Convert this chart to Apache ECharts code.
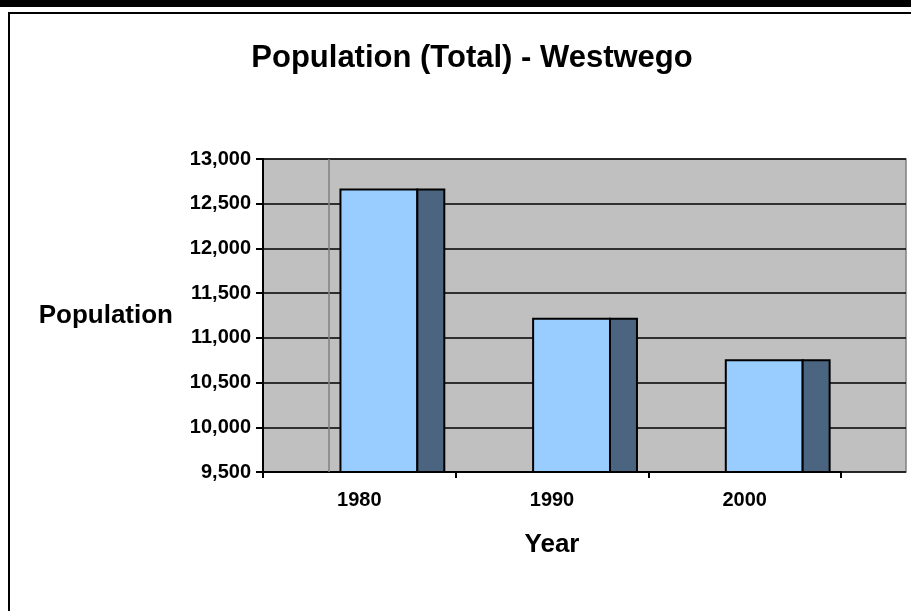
<!DOCTYPE html>
<html>
<head>
<meta charset="utf-8">
<script src="https://cdn.jsdelivr.net/npm/echarts@6/dist/echarts.min.js"></script>
<style>
html,body{margin:0;padding:0;background:#fff;}
#chart{width:911px;height:611px;}
</style>
</head>
<body>
<div id="chart"></div>
<script>
const titleText = 'Population (Total) - Westwego';
const yAxisTitle = 'Population';
const xAxisTitle = 'Year';
const categories = ['1980', '1990', '2000'];
const populationValues = [12660, 11215, 10750];
const yMin = 9500, yMax = 13000, yStep = 500;

const FONT = '"Liberation Sans", Arial, Helvetica, sans-serif';
const chart = echarts.init(document.getElementById('chart'));

function fmt(v){ return String(v).replace(/\B(?=(\d{3})+(?!\d))/g, ','); }

const option = {
  backgroundColor: '#ffffff',
  animation: false,
  title: {
    text: titleText,
    left: 467, top: 38, textAlign: 'center',
    textStyle: { fontFamily: FONT, fontWeight: 'bold', fontSize: 31, color: '#000' }
  },
  grid: [
    { left: 263, right: 5, top: 159, bottom: 139, show: true, backgroundColor: '#C0C0C0', borderColor: '#808080', borderWidth: 1.5 },
    { left: 263, width: 578, top: 159, bottom: 139 }
  ],
  xAxis: [
    { gridIndex: 0, type: 'value', show: false, min: 0, max: 1 },
    { gridIndex: 1, type: 'category', data: categories,
      axisLine: { show: true, lineStyle: { color: '#000', width: 2 } },
      axisTick: { show: true, length: 6, lineStyle: { color: '#000', width: 2 } },
      axisLabel: { fontFamily: FONT, fontWeight: 'bold', fontSize: 20, color: '#000', margin: 18 },
      name: xAxisTitle, nameLocation: 'middle', nameGap: 60,
      nameTextStyle: { fontFamily: FONT, fontWeight: 'bold', fontSize: 26, color: '#000' }
    }
  ],
  yAxis: [
    { gridIndex: 0, type: 'value', min: yMin, max: yMax, interval: yStep,
      axisLine: { show: true, lineStyle: { color: '#000', width: 2 } },
      axisTick: { show: true, length: 7, lineStyle: { color: '#000', width: 2 } },
      axisLabel: { fontFamily: FONT, fontWeight: 'bold', fontSize: 20, color: '#000', margin: 12, formatter: fmt },
      splitLine: { show: true, lineStyle: { color: '#000', width: 1.5 } },
      name: yAxisTitle, nameLocation: 'middle', nameGap: 90, nameRotate: 0,
      nameTextStyle: { fontFamily: FONT, fontWeight: 'bold', fontSize: 26, color: '#000' }
    },
    { gridIndex: 1, type: 'value', min: yMin, max: yMax, interval: yStep, show: false }
  ],
  graphic: [
    { type: 'rect', shape: { x: 0, y: 0, width: 911, height: 7 }, style: { fill: '#000' }, z: 100 },
    { type: 'line', shape: { x1: 8, y1: 13, x2: 911, y2: 13 }, style: { stroke: '#000', lineWidth: 2 }, z: 100 },
    { type: 'line', shape: { x1: 9, y1: 12, x2: 9, y2: 611 }, style: { stroke: '#000', lineWidth: 2 }, z: 100 },
    { type: 'line', shape: { x1: 329, y1: 159, x2: 329, y2: 472 }, style: { stroke: '#808080', lineWidth: 1.5 }, z: 1 }
  ],
  series: [{
    type: 'custom',
    xAxisIndex: 1, yAxisIndex: 1,
    data: categories.map((c, i) => [i, populationValues[i]]),
    z: 5,
    renderItem: function(params, api){
      const cat = api.value(0), val = api.value(1);
      const top = api.coord([cat, val]);
      const base = api.coord([cat, yMin]);
      const band = api.size([1, 0])[0];
      const frontL = top[0] - 0.098 * band;
      const frontW = 0.399 * band;
      const sideW = 0.14 * band;
      const h = base[1] - top[1];
      return { type: 'group', children: [
        { type: 'rect', shape: { x: frontL, y: top[1], width: frontW, height: h }, style: { fill: '#99CCFF', stroke: '#000', lineWidth: 2 } },
        { type: 'rect', shape: { x: frontL + frontW, y: top[1], width: sideW, height: h }, style: { fill: '#4B6580', stroke: '#000', lineWidth: 2 } }
      ]};
    }
  }]
};
chart.setOption(option);
</script>
</body>
</html>
